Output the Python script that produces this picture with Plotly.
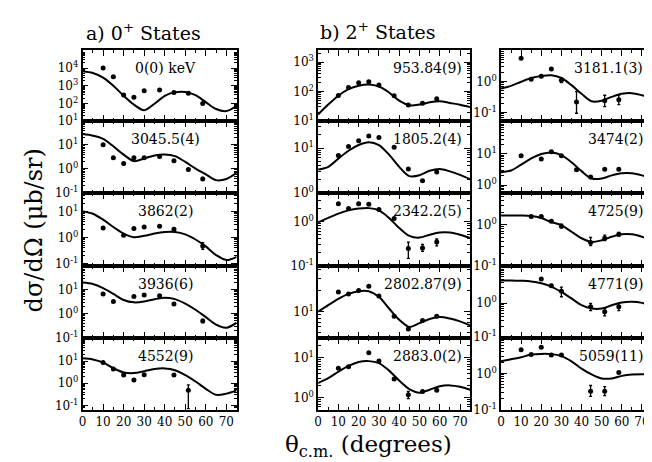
import math
import plotly.graph_objects as go

W, H = 652, 462

# common angle grid of the DWBA-like curves (degrees)
CURVE_ANG = [0, 5, 10, 15, 20, 25, 30, 35, 40, 45, 50, 55, 60, 65, 70, 75]
X_TICKS = [0, 10, 20, 30, 40, 50, 60, 70]

STATE_LABELS = ["0(0) keV", "3045.5(4)", "3862(2)", "3936(6)", "4552(9)",
                "953.84(9)", "1805.2(4)", "2342.2(5)", "2802.87(9)", "2883.0(2)",
                "3181.1(3)", "3474(2)", "4725(9)", "4771(9)", "5059(11)"]

# ---------- a) 0+ states ----------
a1_ang = [10, 15, 20, 25, 30, 37.5, 44.5, 51.5, 58.5]
a1_val = [10000, 3200, 300, 225, 525, 570, 410, 370, 100]
a1_fit = [6600, 5250, 2900, 1000, 270, 85, 41, 95, 270, 425, 445, 290, 118, 48, 37, 74]

a2_ang = [10, 15, 20, 25, 30, 37.5, 44.5, 51.5, 58.5]
a2_val = [10, 2.9, 1.66, 2.9, 2.9, 3.3, 2.2, 0.94, 0.38]
a2_lo = [None, None, None, None, None, None, None, None, 0.33]
a2_hi = [None, None, None, None, None, None, None, None, 0.44]
a2_fit = [28, 24, 17.8, 8.7, 3.9, 2.1, 2.7, 3.6, 4.0, 3.4, 1.95, 1.03, 0.59, 0.34, 0.38, 0.68]

a3_ang = [10, 20, 25, 30, 37.5, 44.5, 58.5]
a3_val = [2.3, 1.22, 2.2, 2.5, 2.7, 2.05, 0.47]
a3_lo = [None, None, None, None, None, None, 0.35]
a3_hi = [None, None, None, None, None, None, 0.63]
a3_fit = [10, 8.1, 4.8, 2.5, 1.4, 1.02, 1.15, 1.4, 1.6, 1.6, 1.3, 0.83, 0.45, 0.21, 0.135, 0.18]

a4_ang = [10, 15, 25, 30, 37.5, 44.5, 58.5]
a4_val = [6.6, 3.2, 5.2, 6.0, 5.5, 2.5, 0.49]
a4_lo = [None, None, None, None, None, None, 0.42]
a4_hi = [None, None, None, None, None, None, 0.57]
a4_fit = [19.5, 17, 11.5, 6.6, 3.7, 2.95, 3.2, 4.0, 4.6, 4.0, 2.6, 1.45, 0.72, 0.35, 0.26, 0.42]

a5_ang = [10, 15, 20, 25, 30, 44.5, 51.5]
a5_val = [8.7, 4.4, 2.35, 1.4, 2.4, 2.35, 0.48]
a5_lo = [None, None, None, None, None, None, 0.072]
a5_hi = [None, None, None, None, None, None, 0.85]
a5_fit = [13.5, 12, 8.7, 4.8, 3.1, 2.9, 3.5, 4.4, 4.7, 3.9, 2.35, 1.2, 0.56, 0.30, 0.34, 0.48]

# ---------- b) 2+ states (first column) ----------
b1_ang = [10, 15, 20, 25, 30, 37.5, 44.5, 51.5, 58.5]
b1_val = [73, 136, 200, 215, 167, 72, 35, 40, 57]
b1_fit = [16.6, 36, 72, 120, 158, 174, 148, 93, 49, 34, 36, 43, 47, 41, 35.5, 29.5]

b2_ang = [10, 15, 20, 25, 30, 37.5, 44.5, 51.5, 58.5]
b2_val = [6.8, 10.9, 14.5, 18.7, 17.2, 10.4, 3.4, 1.86, 2.9]
b2_fit = [3.3, 3.8, 5.8, 8.7, 11.7, 13.5, 11.7, 7.1, 3.8, 2.35, 2.45, 3.1, 3.4, 3.0, 2.5, 2.0]

b3_ang = [10, 15, 20, 25, 30, 37.5, 44.5, 51.5, 58.5]
b3_val = [2.5, 1.95, 2.5, 2.45, 1.86, 1.17, 0.245, 0.25, 0.34]
b3_lo = [None, None, None, None, None, None, 0.145, 0.21, 0.28]
b3_hi = [None, None, None, None, None, None, 0.34, 0.30, 0.40]
b3_fit = [0.95, 1.2, 1.5, 1.78, 1.95, 2.0, 1.78, 1.2, 0.71, 0.47, 0.43, 0.5, 0.56, 0.56, 0.5, 0.42]

b4_ang = [10, 15, 20, 25, 30, 37.5, 44.5, 51.5, 58.5]
b4_val = [19, 17.8, 20, 23, 16.6, 8.5, 5.6, 7.4, 8.5]
b4_fit = [9.9, 12.3, 15.1, 17.8, 19.5, 19.5, 16.2, 11, 7.6, 6.0, 6.8, 7.8, 8.3, 7.9, 7.2, 6.3]

b5_ang = [10, 15, 25, 30, 37.5, 44.5, 51.5, 58.5]
b5_val = [5.5, 6.0, 13.5, 8.3, 2.95, 1.2, 1.45, 1.55]
b5_lo = [None, None, None, None, None, 0.95, None, None]
b5_hi = [None, None, None, None, None, 1.45, None, None]
b5_fit = [2.35, 3.1, 4.5, 6.3, 7.9, 8.3, 7.4, 4.8, 2.7, 1.66, 1.35, 1.6, 1.95, 2.05, 1.9, 1.6]

# ---------- b) 2+ states (second column) ----------
c1_ang = [10, 15, 20, 25, 30, 37.5, 51.5, 58.5]
c1_val = [5.6, 1.17, 1.47, 2.5, 1.1, 0.22, 0.24, 0.26]
c1_lo = [None, None, None, None, 0.92, 0.095, 0.155, 0.18]
c1_hi = [None, None, None, None, 1.3, 0.47, 0.36, 0.36]
c1_fit = [0.59, 0.72, 0.98, 1.29, 1.5, 1.58, 1.29, 0.76, 0.40, 0.23, 0.24, 0.32, 0.40, 0.42, 0.36, 0.29]

c2_ang = [10, 20, 25, 30, 37.5, 44.5, 51.5, 58.5]
c2_val = [8.8, 6.9, 11.7, 8.8, 3.1, 1.8, 3.2, 3.2]
c2_fit = [2.6, 2.95, 4.5, 7.2, 10, 11.2, 9.1, 5.4, 2.8, 1.62, 1.62, 2.05, 2.4, 2.4, 2.05, 1.62]

c3_ang = [15, 20, 25, 30, 44.5, 51.5, 58.5]
c3_val = [1.6, 1.6, 1.23, 0.93, 0.37, 0.47, 0.59]
c3_lo = [None, None, None, 0.85, 0.31, 0.41, 0.53]
c3_hi = [None, None, None, 1.05, 0.49, 0.56, 0.65]
c3_fit = [1.7, 1.7, 1.7, 1.66, 1.48, 1.17, 0.98, 0.68, 0.47, 0.38, 0.42, 0.51, 0.59, 0.59, 0.51, 0.41]

c4_ang = [20, 25, 30, 44.5, 51.5, 58.5]
c4_val = [5.2, 3.3, 2.25, 0.78, 0.56, 0.78]
c4_lo = [None, 3.0, 1.55, 0.6, 0.42, 0.6]
c4_hi = [None, 3.6, 3.0, 0.98, 0.69, 0.98]
c4_fit = [4.7, 4.7, 4.6, 4.4, 3.9, 3.1, 2.15, 1.38, 0.87, 0.69, 0.69, 0.87, 1.05, 1.1, 1.02, 0.81]

c5_ang = [10, 15, 20, 25, 30, 44.5, 51.5, 58.5]
c5_val = [4.5, 3.3, 5.3, 3.2, 3.2, 0.32, 0.32, 1.05]
c5_lo = [None, None, None, None, None, 0.23, 0.24, None]
c5_hi = [None, None, None, None, None, 0.46, 0.43, None]
c5_fit = [2.15, 2.45, 2.8, 3.3, 3.45, 3.4, 3.0, 2.15, 1.35, 0.93, 0.72, 0.72, 0.85, 0.93, 0.95, 0.93]

# labelled decades (exponents) of each panel's y axis
Y_TICK_EXP = [[1, 2, 3, 4], [-1, 0, 1], [-1, 0, 1], [-1, 0, 1], [-1, 0, 1],
              [1, 2, 3], [0, 1], [-1, 0], [1], [0, 1],
              [-1, 0], [0, 1], [-1, 0], [-1, 0], [-1, 0]]

# ---------- layout constants ----------
Y_RANGES = [[0.99, 5.0], [-1.01, 1.98], [-1.1, 1.7], [-1.01, 1.98], [-1.2, 2.05],
            [0.99, 3.4], [-0.01, 1.6], [-1.01, 0.64], [0.62, 1.65], [-0.3, 1.5],
            [-1.28, 1.0], [-0.26, 2.05], [-1.01, 0.78], [-1.03, 1.1], [-1.01, 0.98]]
COL_PX = [(71, 226), (308, 461), (492, 644)]
ROW_PX = [(43, 115), (115, 188), (188, 262), (262, 335), (335, 408)]

panels = [
    (a1_ang, a1_val, None, None, a1_fit), (a2_ang, a2_val, a2_lo, a2_hi, a2_fit),
    (a3_ang, a3_val, a3_lo, a3_hi, a3_fit), (a4_ang, a4_val, a4_lo, a4_hi, a4_fit),
    (a5_ang, a5_val, a5_lo, a5_hi, a5_fit),
    (b1_ang, b1_val, None, None, b1_fit), (b2_ang, b2_val, None, None, b2_fit),
    (b3_ang, b3_val, b3_lo, b3_hi, b3_fit), (b4_ang, b4_val, None, None, b4_fit),
    (b5_ang, b5_val, b5_lo, b5_hi, b5_fit),
    (c1_ang, c1_val, c1_lo, c1_hi, c1_fit), (c2_ang, c2_val, None, None, c2_fit),
    (c3_ang, c3_val, c3_lo, c3_hi, c3_fit), (c4_ang, c4_val, c4_lo, c4_hi, c4_fit),
    (c5_ang, c5_val, c5_lo, c5_hi, c5_fit),
]

FONT = "DejaVu Serif"


def px_x(p):
    return p / W


def px_y(p):
    return 1 - p / H


fig = go.Figure()
layout = dict(width=W, height=H, margin=dict(l=0, r=0, t=0, b=0),
              paper_bgcolor="white", plot_bgcolor="white", showlegend=False,
              font=dict(family=FONT, color="black"))
annotations = []

for i, (ang, val, lo, hi, fit) in enumerate(panels):
    c, r = divmod(i, 5)
    n = i + 1
    xa = "x" if n == 1 else f"x{n}"
    ya = "y" if n == 1 else f"y{n}"
    xk = "xaxis" if n == 1 else f"xaxis{n}"
    yk = "yaxis" if n == 1 else f"yaxis{n}"

    fig.add_trace(go.Scatter(x=CURVE_ANG, y=fit, mode="lines",
                             line=dict(color="black", width=2, shape="spline", smoothing=0.9),
                             xaxis=xa, yaxis=ya, hoverinfo="skip"))
    err = None
    if lo is not None:
        plus = [(h - v) if h is not None else 0 for v, h in zip(val, hi)]
        minus = [(v - l) if l is not None else 0 for v, l in zip(val, lo)]
        err = dict(type="data", symmetric=False, array=plus, arrayminus=minus,
                   color="black", thickness=1.3, width=1.5)
    fig.add_trace(go.Scatter(x=ang, y=val, mode="markers",
                             marker=dict(color="black", size=5),
                             error_y=err, xaxis=xa, yaxis=ya, cliponaxis=False))

    x0, x1 = COL_PX[c]
    t, b = ROW_PX[r]
    layout[xk] = dict(domain=[px_x(x0), px_x(x1)], anchor=ya, range=[0, 75],
                      tickmode="array", tickvals=X_TICKS,
                      ticks="inside", ticklen=6, tickwidth=1.2, tickcolor="black",
                      minor=dict(tickmode="array", tickvals=[5, 15, 25, 35, 45, 55, 65, 75],
                                 ticks="inside", ticklen=3, tickwidth=1, tickcolor="black"),
                      showline=True, linewidth=1.6, linecolor="black", mirror="allticks",
                      showgrid=False, zeroline=False,
                      showticklabels=(r == 4), tickfont=dict(family=FONT, size=12))
    lo_r, hi_r = Y_RANGES[i]
    exps = Y_TICK_EXP[i]
    minors = []
    for e in range(-3, 7):
        for m in range(1, 10):
            v = m * 10 ** e
            lv = math.log10(v)
            if lo_r <= lv <= hi_r and not (m == 1 and e in exps):
                minors.append(v)
    layout[yk] = dict(type="log", domain=[px_y(b), px_y(t)], anchor=xa, range=[lo_r, hi_r],
                      tickmode="array", tickvals=[10 ** e for e in exps],
                      ticktext=[f"10<sup>{e}</sup>" for e in exps],
                      ticks="inside", ticklen=6, tickwidth=1.2, tickcolor="black",
                      minor=dict(tickmode="array", tickvals=minors, ticks="inside",
                                 ticklen=3, tickwidth=1, tickcolor="black"),
                      showline=True, linewidth=1.6, linecolor="black", mirror="allticks",
                      showgrid=False, zeroline=False,
                      tickfont=dict(family=FONT, size=12))

    # state label
    ly = px_y(t + 18)
    if c == 0:
        annotations.append(dict(x=px_x(154), y=ly, xref="paper", yref="paper",
                                text=STATE_LABELS[i], showarrow=False, xanchor="center",
                                yanchor="middle", font=dict(family=FONT, size=14)))
    else:
        rx = 455 if c == 1 else 637
        annotations.append(dict(x=px_x(rx), y=ly, xref="paper", yref="paper",
                                text=STATE_LABELS[i], showarrow=False, xanchor="right",
                                yanchor="middle", font=dict(family=FONT, size=14)))

annotations += [
    dict(x=px_x(72), y=px_y(24), xref="paper", yref="paper", text="a) 0<sup>+</sup> States",
         showarrow=False, xanchor="left", yanchor="middle", font=dict(family=FONT, size=19)),
    dict(x=px_x(308), y=px_y(23), xref="paper", yref="paper", text="b) 2<sup>+</sup> States",
         showarrow=False, xanchor="left", yanchor="middle", font=dict(family=FONT, size=19)),
    dict(x=px_x(22), y=px_y(226), xref="paper", yref="paper", text="dσ/dΩ (μb/sr)",
         textangle=-90, showarrow=False, xanchor="center", yanchor="middle",
         font=dict(family=FONT, size=24)),
    dict(x=px_x(359), y=px_y(445), xref="paper", yref="paper",
         text="θ<sub>c.m.</sub> (degrees)", showarrow=False, xanchor="center",
         yanchor="middle", font=dict(family=FONT, size=23)),
]
layout["annotations"] = annotations
fig.update_layout(**layout)
fig.write_html("out.html")
